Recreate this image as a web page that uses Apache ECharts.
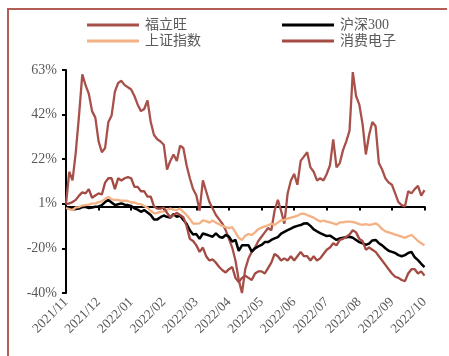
<!DOCTYPE html>
<html>
<head>
<meta charset="utf-8">
<script src="https://cdn.jsdelivr.net/npm/echarts@6/dist/echarts.min.js"></script>
<style>
  html, body { margin: 0; padding: 0; background: #fff; }
  #main { width: 449px; height: 356px; }
</style>
</head>
<body>
<div id="main"></div>
<script>
// 月份刻度标签
var months = ['2021/11', '2021/12', '2022/01', '2022/02', '2022/03', '2022/04',
  '2022/05', '2022/06', '2022/07', '2022/08', '2022/09', '2022/10'];
var yTickLabels = ['-40%', '-20%', '1%', '22%', '42%', '63%'];

// 区间涨跌幅(%)
var fuliwang = [1, 16, 12, 25, 42, 61, 56, 52, 44, 41, 30, 25, 27, 39, 42, 53, 57, 58, 56, 55,
  54, 51, 47, 44, 45, 49, 39, 33, 31, 30, 28.5, 17, 21, 24, 21, 28, 27, 19, 13, 8,
  5, -2, 12, 7, 2, -1, -4, -6, -8, -11, -15, -19, -25, -34, -40, -29, -24, -21, -19, -16,
  -14, -12, -10, -11, -2, 3, -2, -8, 6, 12, 15, 10, 21, 23, 25, 18, 16, 12, 13, 12,
  15, 19, 31, 18, 20, 26, 30, 35, 62, 51, 47, 38, 24, 33, 39, 37, 20, 17, 13, 11,
  10, 6, 2, 0.6, 0, 7, 6, 8, 9.5, 5, 7.5];
var hs300 = [-0.5, -1, -1.5, -1.2, -1, -0.3, -0.2, -0.8, -0.5, -0.2, 0, 0.6, 2, 3, 1.8, 0.6, 1, 1.4, 0.8, 0.6,
  0.2, -0.9, -1.5, -2.5, -1.7, -2.8, -4, -6, -6, -5, -4.2, -4.8, -5.2, -3.5, -4.8, -4.2, -6.3, -8, -11, -13,
  -12.8, -15, -12.5, -13, -13.5, -14, -12.5, -14, -14.5, -13.2, -14, -16.3, -15.5, -20.5, -18, -18, -18, -20.9, -19.4, -18.5,
  -17.8, -16.5, -16.5, -15.5, -14.8, -14.2, -12.6, -11.8, -11, -10.3, -9.5, -9, -8.6, -7.9, -7.8, -9, -10.6, -11.5, -12.3, -13,
  -13.7, -13.5, -14.5, -15.5, -14.8, -14.5, -14.3, -14, -14.5, -15.5, -16.5, -17, -17.8, -17.2, -15.7, -15.5, -17, -18, -19.3, -20.5,
  -21, -21.5, -22.5, -23, -22.5, -21.5, -21, -23.5, -24.8, -26.5, -28];
var szzs = [-0.8, -1.2, -1.7, -0.5, -0.3, 0.4, 0.6, 0.8, 1.3, 1.4, 2, 2.3, 3.5, 4.4, 3.2, 3, 3, 2.6, 2.7, 2.5,
  1.8, 1.8, 1.2, 1, 0.2, -0.6, -2, -3.2, -3, -2.5, -2.3, -1.5, -1, -1.5, -1.7, -1, -2.5, -4, -5.8, -8,
  -8, -7.8, -6.5, -6.8, -7.5, -6.5, -7.5, -8.2, -9, -9.6, -10, -9.6, -12, -14.5, -15.5, -13.5, -12.8, -13.2, -12, -10.5,
  -9.8, -9.2, -8.7, -8.1, -8.5, -7.5, -6.3, -6.2, -5.6, -5.2, -4.8, -4.3, -3.5, -3.3, -4, -4.6, -5.2, -6.2, -7, -6.5,
  -7, -7.4, -7.8, -8.4, -7.4, -7.4, -7, -7, -7.2, -7.6, -8.2, -8.5, -8.2, -8.5, -8.3, -7.8, -8.8, -10.5, -11.5, -12,
  -12.5, -13, -13.5, -14, -14.5, -13.8, -13.2, -14.5, -16, -17, -18];
var xfdz = [1, 1.4, 2, 3, 5, 6.5, 6, 8, 4, 5, 6, 5.5, 11, 13, 13, 8, 13, 12, 13, 13.5,
  13, 9, 9, 7, 7, 4.5, 4.5, 0, -1, -1, -0.5, -3, -5, -4, -3, -4, -5, -9, -15, -16,
  -18, -21, -19, -23, -25, -24.5, -26, -28, -29.5, -30.5, -29, -28, -33, -35, -33, -32, -33, -34, -31, -30,
  -30, -31, -28.5, -26, -22, -23, -25, -24, -25, -23, -25, -23, -21, -23, -23, -25, -23, -25, -24, -22,
  -20, -19, -17, -18, -15.5, -15, -14, -13, -11, -12, -15, -16, -20, -19, -20, -21, -23, -25, -27, -29,
  -31, -32.5, -33, -34, -34.5, -31, -29, -29, -31, -30, -32];

var brown = '#A8514A';
var brown2 = '#A34A42';
var orange = '#F4B183';
var textColor = '#595959';
var serif = 'Liberation Serif, "Noto Sans CJK SC", serif';

function pairs(arr) {
  return arr.map(function (v, i) { return [i, v]; });
}

var chart = echarts.init(document.getElementById('main'));

function legendAt(name, left, top) {
  return {
    data: [name],
    left: left,
    top: top,
    icon: 'rect',
    itemWidth: 52,
    itemHeight: 3,
    itemGap: 0,
    selectedMode: false,
    textStyle: { color: textColor, fontSize: 14, fontFamily: serif, padding: [0, 0, 0, 1] }
  };
}

function line(name, data, color, width) {
  return {
    name: name,
    type: 'line',
    data: pairs(data),
    showSymbol: false,
    symbol: 'none',
    lineStyle: { color: color, width: width },
    itemStyle: { color: color },
    animation: false
  };
}

chart.setOption({
  animation: false,
  backgroundColor: '#fff',
  legend: [
    legendAt('福立旺', 82, 13),
    legendAt('沪深300', 277, 13),
    legendAt('上证指数', 82, 29),
    legendAt('消费电子', 277, 29)
  ],
  grid: { left: 66, right: 24.5, top: 70, bottom: 63, containLabel: false },
  xAxis: {
    type: 'value',
    min: 0,
    max: 110,
    interval: 10,
    axisLine: { show: true, lineStyle: { color: '#000', width: 2 } },
    axisTick: { show: true, length: 4, lineStyle: { color: '#000', width: 2 } },
    splitLine: { show: false },
    axisLabel: {
      rotate: 45,
      margin: 7,
      color: textColor,
      fontSize: 13.5,
      fontFamily: serif,
      formatter: function (v) { return months[Math.round(v / 10)] || ''; }
    }
  },
  yAxis: {
    type: 'value',
    min: -40,
    max: 63,
    interval: 20.6,
    axisLine: { show: true, lineStyle: { color: '#000', width: 2 } },
    axisTick: { show: true, length: 4, lineStyle: { color: '#000', width: 2 } },
    splitLine: { show: false },
    axisLabel: {
      margin: 9,
      color: textColor,
      fontSize: 14,
      fontFamily: serif,
      formatter: function (v) { return yTickLabels[Math.round((v + 40) / 20.6)] || ''; }
    }
  },
  graphic: [{
    type: 'polyline',
    shape: { points: [[8, 356], [8, 9], [447, 9]] },
    style: { stroke: '#B35D57', lineWidth: 2, fill: null },
    silent: true
  }],
  series: [
    line('福立旺', fuliwang, brown, 2.3),
    line('沪深300', hs300, '#000', 2.5),
    line('上证指数', szzs, orange, 2.3),
    line('消费电子', xfdz, brown2, 2.3)
  ]
});
</script>
</body>
</html>
